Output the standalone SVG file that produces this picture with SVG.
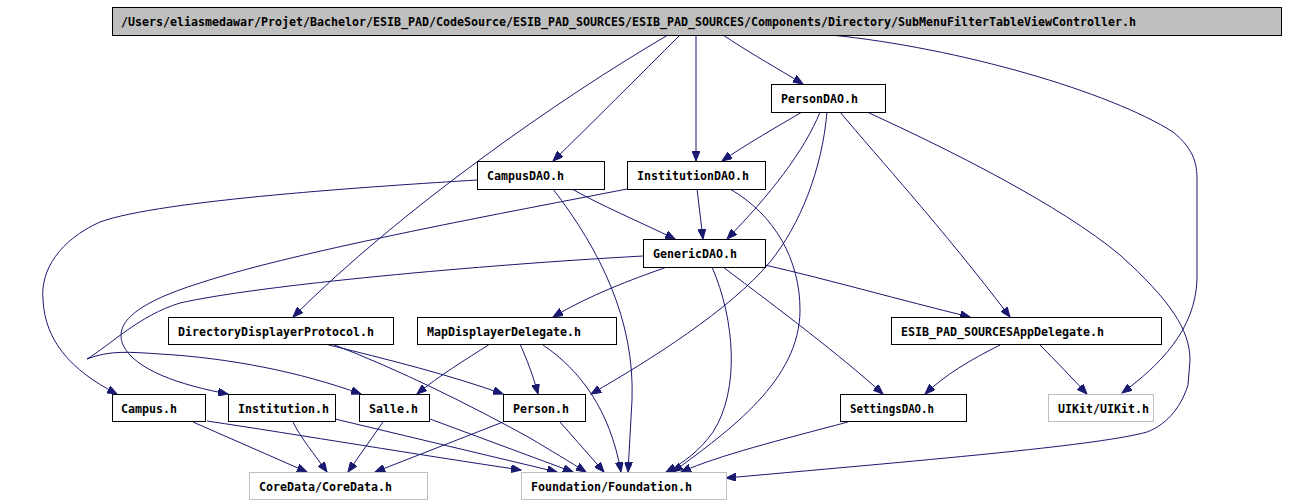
<svg xmlns="http://www.w3.org/2000/svg" width="1289" height="504" viewBox="0 0 1289 504">
<style>
.n rect{fill:#ffffff;stroke:#000000;stroke-width:1}
.n.g rect{stroke:#bfbfbf}
.n.top rect{fill:#bfbfbf}
.n text{font-family:"DejaVu Sans Mono","Liberation Mono",monospace;font-size:11.6px;font-weight:bold;fill:#000000}
.e path{fill:none;stroke:#191970;stroke-width:1;marker-end:url(#a)}
</style>
<defs>
<marker id="a" markerWidth="11" markerHeight="8" refX="10" refY="4" orient="auto" markerUnits="userSpaceOnUse">
<path d="M0,0 L10,4 L0,8 z" fill="#191970" stroke="#191970" stroke-width="1"/>
</marker>
</defs>
<rect width="1289" height="504" fill="#ffffff"/>
<g class="e" id="connectors">
<path d="M723,35 C745,50 780,70 803,84"/>
<path d="M696,35 L696,161"/>
<path d="M680,35 C640,75 590,125 553,161"/>
<path d="M668,35 C560,98 400,210 293,317"/>
<path d="M831,35 C960,48 1110,92 1173,132 C1195,150 1197,165 1197,180 L1197,280 C1195,330 1160,365 1122,393"/>
<path d="M867,112 C950,150 1060,205 1120,255 C1170,300 1190,330 1190,360 L1188,385 C1180,410 1165,425 1147,432 C1100,445 950,458 726,478"/>
<path d="M802,112 C780,125 745,145 722,161"/>
<path d="M820,112 C805,150 770,195 727,239"/>
<path d="M827,112 C822,170 800,225 770,262 C730,310 650,360 591,394"/>
<path d="M840,112 C880,160 940,225 1010,317"/>
<path d="M572,189 C600,205 640,222 675,239"/>
<path d="M477,180 C380,186 160,200 100,222 C60,240 40,270 43,300 C45,340 70,370 117,394"/>
<path d="M553,189 C600,250 635,320 632,400 L628,472"/>
<path d="M697,189 L703,239"/>
<path d="M627,189 C520,210 300,250 200,283 C130,305 115,325 123,345 C135,370 180,385 228,394"/>
<path d="M730,189 C775,215 800,260 800,310 C800,380 730,430 673,472"/>
<path d="M643,256 C480,265 260,285 180,303 C140,315 110,345 87,359 C110,350 130,352 160,354 C230,358 300,372 361,394"/>
<path d="M667,267 C630,280 590,295 553,317"/>
<path d="M765,265 C830,280 900,300 970,317"/>
<path d="M723,267 C780,310 840,355 883,394"/>
<path d="M712,267 C735,320 740,390 713,432 C700,450 685,462 666,472"/>
<path d="M325,344 C390,360 450,375 503,394"/>
<path d="M332,344 C400,370 470,405 530,438 C550,450 570,462 586,472"/>
<path d="M490,344 C465,360 440,375 417,394"/>
<path d="M520,344 C527,360 533,375 538,394"/>
<path d="M543,345 C580,370 610,410 621,472"/>
<path d="M1000,345 C970,360 945,375 925,394"/>
<path d="M1040,345 C1055,360 1072,378 1087,394"/>
<path d="M193,422 L307,472"/>
<path d="M207,421 C300,435 420,455 521,470"/>
<path d="M293,422 C300,437 315,455 327,472"/>
<path d="M335,419 L557,472"/>
<path d="M383,422 L348,472"/>
<path d="M430,419 L573,472"/>
<path d="M503,422 L375,472"/>
<path d="M560,422 L604,472"/>
<path d="M848,422 C780,440 720,455 681,472"/>
</g>
<g class="n top" id="node-SubMenuFilterTableViewController"><rect x="112.5" y="7.5" width="1169" height="28"/><text x="121" y="26" textLength="1015" lengthAdjust="spacingAndGlyphs">/Users/eliasmedawar/Projet/Bachelor/ESIB_PAD/CodeSource/ESIB_PAD_SOURCES/ESIB_PAD_SOURCES/Components/Directory/SubMenuFilterTableViewController.h</text></g>
<g class="n" id="node-PersonDAO"><rect x="771.5" y="84.5" width="114" height="28"/><text x="781" y="103" textLength="77" lengthAdjust="spacingAndGlyphs">PersonDAO.h</text></g>
<g class="n" id="node-CampusDAO"><rect x="477.5" y="161.5" width="127" height="28"/><text x="487" y="180" textLength="77" lengthAdjust="spacingAndGlyphs">CampusDAO.h</text></g>
<g class="n" id="node-InstitutionDAO"><rect x="627.5" y="161.5" width="138" height="28"/><text x="637" y="180" textLength="112" lengthAdjust="spacingAndGlyphs">InstitutionDAO.h</text></g>
<g class="n" id="node-GenericDAO"><rect x="643.5" y="239.5" width="122" height="28"/><text x="653" y="258" textLength="84" lengthAdjust="spacingAndGlyphs">GenericDAO.h</text></g>
<g class="n" id="node-DirectoryDisplayerProtocol"><rect x="168.5" y="317.5" width="225" height="27"/><text x="178" y="336" textLength="196" lengthAdjust="spacingAndGlyphs">DirectoryDisplayerProtocol.h</text></g>
<g class="n" id="node-MapDisplayerDelegate"><rect x="417.5" y="317.5" width="199" height="27"/><text x="427" y="336" textLength="154" lengthAdjust="spacingAndGlyphs">MapDisplayerDelegate.h</text></g>
<g class="n" id="node-ESIBAppDelegate"><rect x="891.5" y="317.5" width="270" height="27"/><text x="901" y="336" textLength="203" lengthAdjust="spacingAndGlyphs">ESIB_PAD_SOURCESAppDelegate.h</text></g>
<g class="n" id="node-Campus"><rect x="112.5" y="394.5" width="93" height="27"/><text x="121" y="413" textLength="56" lengthAdjust="spacingAndGlyphs">Campus.h</text></g>
<g class="n" id="node-Institution"><rect x="228.5" y="394.5" width="107" height="27"/><text x="238" y="413" textLength="91" lengthAdjust="spacingAndGlyphs">Institution.h</text></g>
<g class="n" id="node-Salle"><rect x="359.5" y="394.5" width="70" height="27"/><text x="369" y="413" textLength="49" lengthAdjust="spacingAndGlyphs">Salle.h</text></g>
<g class="n" id="node-Person"><rect x="503.5" y="394.5" width="82" height="27"/><text x="513" y="413" textLength="56" lengthAdjust="spacingAndGlyphs">Person.h</text></g>
<g class="n" id="node-SettingsDAO"><rect x="840.5" y="394.5" width="126" height="27"/><text x="850" y="413" textLength="84" lengthAdjust="spacingAndGlyphs">SettingsDAO.h</text></g>
<g class="n g" id="node-UIKit"><rect x="1048.5" y="394.5" width="105" height="27"/><text x="1058" y="413" textLength="91" lengthAdjust="spacingAndGlyphs">UIKit/UIKit.h</text></g>
<g class="n g" id="node-CoreData"><rect x="249.5" y="472.5" width="178" height="27"/><text x="259" y="491" textLength="133" lengthAdjust="spacingAndGlyphs">CoreData/CoreData.h</text></g>
<g class="n g" id="node-Foundation"><rect x="521.5" y="472.5" width="205" height="27"/><text x="531" y="491" textLength="161" lengthAdjust="spacingAndGlyphs">Foundation/Foundation.h</text></g>
</svg>
